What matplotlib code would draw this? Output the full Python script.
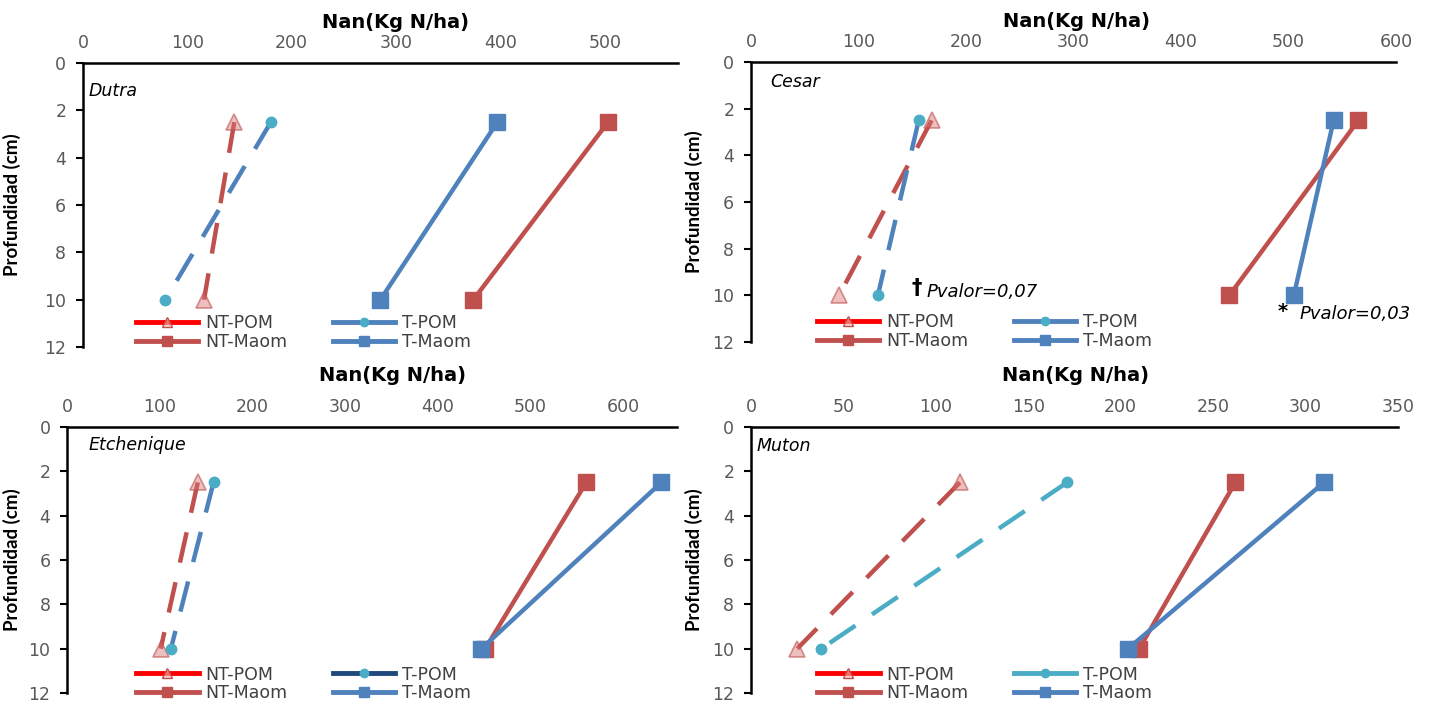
import matplotlib.pyplot as plt
from matplotlib.lines import Line2D

plt.rcParams['font.family'] = ['DejaVu Sans']

# profundidad de muestreo (cm)
depth = [2.5, 10]
y_ticks = [0, 2, 4, 6, 8, 10, 12]
series_labels = ["NT-POM", "NT-Maom", "T-POM", "T-Maom"]

# Dutra
dutra_nt_pom = [145, 116]
dutra_t_pom = [180, 79]
dutra_nt_maom = [503, 374]
dutra_t_maom = [397, 285]
dutra_xticks = [0, 100, 200, 300, 400, 500]

# Cesar
cesar_nt_pom = [168, 82]
cesar_t_pom = [156, 118]
cesar_nt_maom = [565, 445]
cesar_t_maom = [542, 505]
cesar_xticks = [0, 100, 200, 300, 400, 500, 600]

# Etchenique
etch_nt_pom = [141, 101]
etch_t_pom = [158, 112]
etch_nt_maom = [560, 451]
etch_t_maom = [641, 447]
etch_xticks = [0, 100, 200, 300, 400, 500, 600]

# Muton
muton_nt_pom = [113, 25]
muton_t_pom = [171, 38]
muton_nt_maom = [262, 210]
muton_t_maom = [310, 204]
muton_xticks = [0, 50, 100, 150, 200, 250, 300, 350]

RED = '#C0504D'
BLUE = '#4F81BD'
CYAN = '#4BACC6'
NAVY = '#1F497D'
TICK = '#595959'
DASH = (7, 4.5)


def panel(ax, name, nt_pom, t_pom, nt_maom, t_maom, xticks, xmax,
          tpom_color, tpom_leg_color, name_pos, title_pos, ylab_x, leg_pos):
    ax.plot(nt_pom, depth, color=RED, lw=3.2, dashes=DASH, marker='^', ms=11,
            mfc=(0.85, 0.45, 0.45, 0.45), mec=(0.75, 0.31, 0.30, 0.6), mew=1.2)
    ax.plot(nt_maom, depth, color=RED, lw=3.2, marker='s', ms=12, mfc=RED, mec=RED)
    ax.plot(t_pom, depth, color=tpom_color, lw=3.2, dashes=DASH, marker='o', ms=7.5,
            mfc=CYAN, mec=CYAN)
    ax.plot(t_maom, depth, color=BLUE, lw=3.2, marker='s', ms=12, mfc=BLUE, mec=BLUE)

    ax.set_xlim(0, xmax)
    ax.set_ylim(12, 0)
    ax.set_xticks(xticks)
    ax.set_yticks(y_ticks)
    ax.xaxis.tick_top()
    ax.tick_params(axis='x', length=0, pad=8, labelsize=12.5, labelcolor=TICK)
    ax.tick_params(axis='y', length=5, width=1.5, pad=7, labelsize=12.5, labelcolor=TICK)
    for s in ['bottom', 'right']:
        ax.spines[s].set_visible(False)
    for s in ['top', 'left']:
        ax.spines[s].set_linewidth(1.8)

    ax.set_xlabel('Nan(Kg N/ha)', fontsize=14, fontweight='bold')
    ax.xaxis.set_label_position('top')
    ax.xaxis.set_label_coords(title_pos[0], title_pos[1])
    ax.xaxis.label.set_va('center')
    ax.set_ylabel('Profundidad (cm)', fontsize=13.5, fontweight='bold', family='Lato')
    ax.yaxis.set_label_coords(ylab_x, 0.5)

    ax.text(name_pos[0], name_pos[1], name, style='italic', fontsize=12.5, va='center')

    handles = [
        Line2D([], [], color='#FF0000', lw=3.5, marker='^', ms=7,
               mfc=(1, 0.7, 0.7, 0.6), mec=RED),
        Line2D([], [], color=RED, lw=3.5, marker='s', ms=7, mfc=RED, mec=RED),
        Line2D([], [], color=tpom_leg_color, lw=3.5, marker='o', ms=6, mfc=CYAN, mec=CYAN),
        Line2D([], [], color=BLUE, lw=3.5, marker='s', ms=7, mfc=BLUE, mec=BLUE),
    ]
    ax.legend(handles, series_labels, ncol=2, frameon=False, loc='center left',
              bbox_to_anchor=leg_pos, fontsize=12.5, handlelength=3.6,
              handletextpad=0.4, columnspacing=2.6, labelspacing=0.05, borderpad=0,
              borderaxespad=0, labelcolor='#404040')


fig = plt.figure(figsize=(14.3, 7.03), dpi=100)
ax1 = fig.add_axes([0.0580, 0.5064, 0.4161, 0.4040])
ax2 = fig.add_axes([0.5252, 0.5135, 0.4510, 0.3983])
ax3 = fig.add_axes([0.0469, 0.0142, 0.4266, 0.3784])
ax4 = fig.add_axes([0.5252, 0.0142, 0.4524, 0.3784])

panel(ax1, 'Dutra', dutra_nt_pom, dutra_t_pom, dutra_nt_maom, dutra_t_maom,
      dutra_xticks, 570, BLUE, BLUE, (5, 1.2), (0.526, 1.144), -0.104, (0.089, 0.051))
panel(ax2, 'Cesar', cesar_nt_pom, cesar_t_pom, cesar_nt_maom, cesar_t_maom,
      cesar_xticks, 600, BLUE, BLUE, (18, 0.85), (0.504, 1.143), -0.074, (0.102, 0.036))
panel(ax3, 'Etchenique', etch_nt_pom, etch_t_pom, etch_nt_maom, etch_t_maom,
      etch_xticks, 658, BLUE, NAVY, (23, 0.8), (0.533, 1.195), -0.075, (0.113, 0.034))
panel(ax4, 'Muton', muton_nt_pom, muton_t_pom, muton_nt_maom, muton_t_maom,
      muton_xticks, 350, CYAN, CYAN, (3, 0.85), (0.502, 1.195), -0.074, (0.102, 0.034))

# significancia
ax2.text(149, 9.7, '\u2020', fontsize=15, fontweight='bold', va='center')
ax2.text(163, 9.85, 'Pvalor=0,07', style='italic', fontsize=13, va='center')
ax2.text(490, 10.7, '*', fontsize=14, fontweight='bold', va='center')
ax2.text(510, 10.8, 'Pvalor=0,03', style='italic', fontsize=13, va='center', clip_on=False)

fig.savefig('out.png', dpi=100)
